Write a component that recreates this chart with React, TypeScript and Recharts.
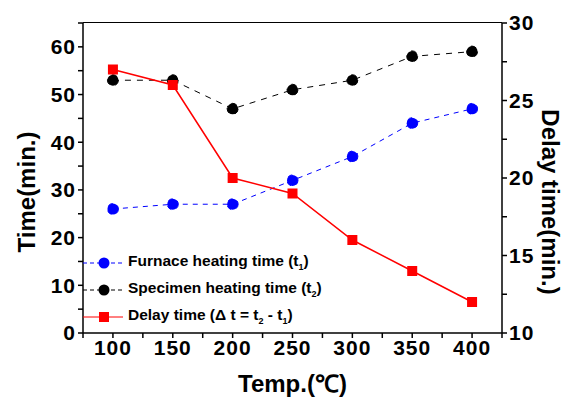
import { LineChart, Line, XAxis, YAxis } from 'recharts';

const temps = [100, 150, 200, 250, 300, 350, 400];
const furnaceTime = [26, 27, 27, 32, 37, 44, 47];
const specimenTime = [53, 53, 47, 51, 53, 58, 59];
const delayTime = [27, 26, 20, 19, 16, 14, 12];

const xTicks = [75, 100, 125, 150, 175, 200, 225, 250, 275, 300, 325, 350, 375, 400, 425];
const xLabels = [100, 150, 200, 250, 300, 350, 400];
const leftTicks = [0, 5, 10, 15, 20, 25, 30, 35, 40, 45, 50, 55, 60, 65];
const leftLabels = [0, 10, 20, 30, 40, 50, 60];
const rightTicks = [10, 12.5, 15, 17.5, 20, 22.5, 25, 27.5, 30];
const rightLabels = [10, 15, 20, 25, 30];

const data = temps.map((t, i) => ({
  temp: t,
  furnace: furnaceTime[i],
  specimen: specimenTime[i],
  delay: delayTime[i],
}));

const font = 'Arial, "Liberation Sans", sans-serif';
const tickStyle = { fill: '#000', fontSize: 21, fontWeight: 'bold' as const, fontFamily: font, letterSpacing: 1 };
const titleStyle = { fill: '#000', fontSize: 24, fontWeight: 'bold' as const, fontFamily: font };

const Square = (props: any) => {
  const { cx, cy } = props;
  if (cx == null || cy == null) return null;
  return <rect x={cx - 5} y={cy - 5} width={10} height={10} fill="#ff0000" />;
};

// axis titles placed from the axis viewBox
const LeftTitle = ({ viewBox }: any) => {
  const x = viewBox.x + 26;
  const y = viewBox.y + viewBox.height / 2 + 14;
  return (
    <text x={x} y={y} transform={`rotate(-90, ${x}, ${y})`} textAnchor="middle" dominantBaseline="central" style={titleStyle}>
      Time(min.)
    </text>
  );
};

const RightTitle = ({ viewBox }: any) => {
  const x = viewBox.x + 48;
  const y = viewBox.y + viewBox.height / 2 + 24;
  return (
    <text x={x} y={y} transform={`rotate(90, ${x}, ${y})`} textAnchor="middle" dominantBaseline="central" style={titleStyle}>
      Delay time(min.)
    </text>
  );
};

const BottomTitle = ({ viewBox }: any) => (
  <text x={viewBox.x + viewBox.width / 2} y={viewBox.y + 59} textAnchor="middle" style={titleStyle}>
    Temp.(℃)
  </text>
);

const legendRows = [
  { color: '#0000ff', dash: '4 3', marker: 'circle', label: 'Furnace heating time (t', sub: '1' },
  { color: '#000000', dash: '4 3', marker: 'circle', label: 'Specimen heating time (t', sub: '2' },
  { color: '#ff0000', dash: undefined, marker: 'square', label: 'Delay time (\u0394 t = t', sub: '2', tail: ' - t', sub2: '1' },
];

const App = () => {
  return (
    <div style={{ position: 'absolute', left: 0, top: 0, width: 565, height: 400, background: 'white', fontFamily: font }}>
      <LineChart width={565} height={400} data={data} margin={{ top: 23, right: 0, bottom: 0, left: 0 }}>
        <XAxis
          dataKey="temp"
          type="number"
          domain={[75, 425]}
          ticks={xTicks}
          tickFormatter={(v: number) => (xLabels.includes(v) ? String(v) : '')}
          tick={tickStyle}
          tickSize={5}
          height={67}
          stroke="#000"
          strokeWidth={1.5}
          label={<BottomTitle />}
        />
        <YAxis
          yAxisId="left"
          domain={[0, 65]}
          ticks={leftTicks}
          tickFormatter={(v: number) => (leftLabels.includes(v) ? String(v) : '')}
          tick={tickStyle}
          tickSize={5}
          width={83}
          stroke="#000"
          strokeWidth={1.5}
          label={<LeftTitle />}
        />
        <YAxis
          yAxisId="right"
          orientation="right"
          domain={[10, 30]}
          ticks={rightTicks}
          tickFormatter={(v: number) => (rightLabels.includes(v) ? String(v) : '')}
          tick={tickStyle}
          tickSize={5}
          width={63}
          stroke="#000"
          strokeWidth={1.5}
          label={<RightTitle />}
        />
        <Line
          yAxisId="left"
          dataKey="furnace"
          stroke="#0000ff"
          strokeWidth={1}
          strokeDasharray="5 5"
          dot={{ r: 5.5, fill: '#0000ff', stroke: '#0000ff' }}
          isAnimationActive={false}
        />
        <Line
          yAxisId="left"
          dataKey="specimen"
          stroke="#000"
          strokeWidth={1}
          strokeDasharray="6 6"
          dot={{ r: 5.5, fill: '#000', stroke: '#000' }}
          isAnimationActive={false}
        />
        <Line
          yAxisId="right"
          dataKey="delay"
          stroke="#ff0000"
          strokeWidth={1.5}
          dot={<Square />}
          isAnimationActive={false}
        />
      </LineChart>
      {/* top edge of the plot frame */}
      <div style={{ position: 'absolute', left: 83, top: 22, width: 419, height: 0, borderTop: '1.5px solid #000' }} />
      <div style={{ position: 'absolute', left: 83, top: 249 }}>
        {legendRows.map((row, i) => (
          <div key={i} style={{ display: 'flex', alignItems: 'center', height: 27 }}>
            <svg width={40} height={14}>
              <line x1={0} y1={7} x2={40} y2={7} stroke={row.color} strokeWidth={1} strokeDasharray={row.dash} />
              {row.marker === 'circle' ? (
                <circle cx={21} cy={7} r={5.5} fill={row.color} />
              ) : (
                <rect x={16} y={2} width={10} height={10} fill={row.color} />
              )}
            </svg>
            <span style={{ marginLeft: 5, fontSize: 15.5, fontWeight: 'bold', color: '#000' }}>
              {row.label}
              <sub style={{ fontSize: 9 }}>{row.sub}</sub>
              {row.tail}
              {row.sub2 && <sub style={{ fontSize: 9 }}>{row.sub2}</sub>}
              )
            </span>
          </div>
        ))}
      </div>
    </div>
  );
};

export default App;
